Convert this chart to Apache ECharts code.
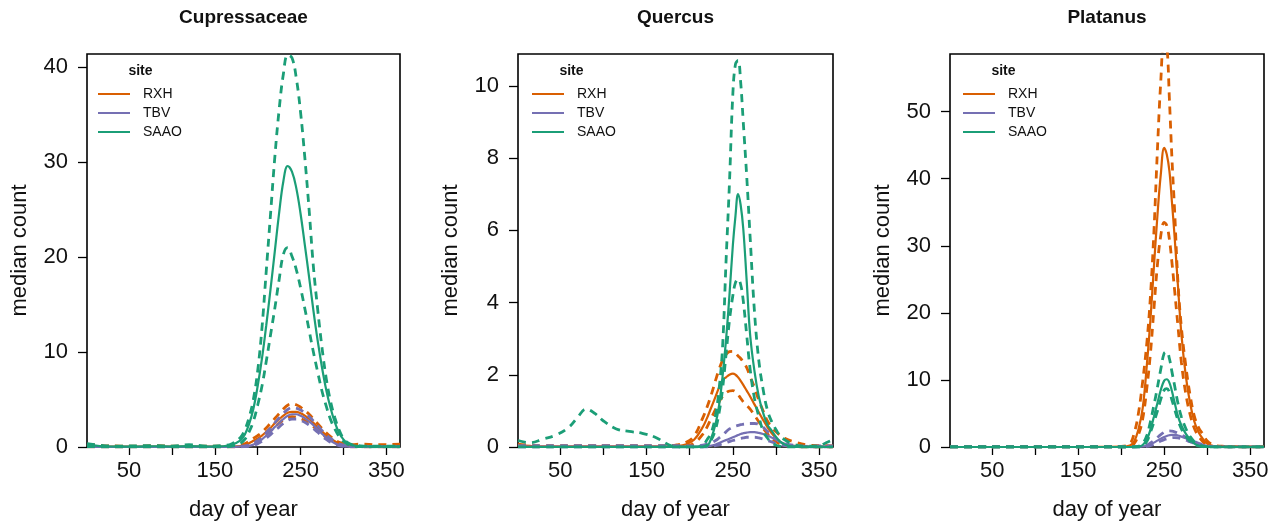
<!DOCTYPE html>
<html>
<head>
<meta charset="utf-8">
<script src="https://cdn.jsdelivr.net/npm/echarts@6/dist/echarts.min.js"></script>
<style>
html,body{margin:0;padding:0;background:#fff;}
#chart{width:1282px;height:526px;}
</style>
</head>
<body>
<div id="chart"></div>
<script>
// ---------- labels / ticks ----------
const panelTitles = ['Cupressaceae', 'Quercus', 'Platanus'];
const sites = ['RXH', 'TBV', 'SAAO'];
const siteColors = ['#d95f02', '#7570b3', '#1b9e77'];
const xTickValues = [50, 100, 150, 200, 250, 300, 350];
const xTickLabels = [50, 150, 250, 350];
const yTicksCup = [0, 10, 20, 30, 40];
const yTicksQue = [0, 2, 4, 6, 8, 10];
const yTicksPla = [0, 10, 20, 30, 40, 50];
const yMaxes = [41.4, 10.88, 58.6];
const xMin = 1, xMax = 366;

// ---------- Cupressaceae ----------
const CUP_DAYS = [1,20,40,60,80,100,120,140,160,170,180,185,190,195,200,205,210,215,220,225,230,235,240,245,250,255,260,265,270,275,280,285,290,295,300,305,310,320,340,366];
const CUP_RXH_MED = [0.1,0.05,0.05,0.05,0.05,0.05,0.05,0.05,0.05,0.05, 0.1,0.2,0.4,0.65,0.9,1.2,1.6,2.0,2.5,2.9, 3.3,3.6,3.7,3.7,3.55,3.3,2.95,2.55,2.1,1.65, 1.25,0.9,0.6,0.35,0.2,0.1,0.05,0.05,0.05,0.05];
const CUP_RXH_HI  = [0.3,0.15,0.1,0.1,0.15,0.1,0.1,0.1,0.1,0.1, 0.2,0.35,0.6,0.9,1.2,1.55,2.0,2.5,3.0,3.5, 4.0,4.4,4.55,4.45,4.2,3.85,3.45,2.95,2.45,1.95, 1.5,1.1,0.75,0.5,0.35,0.25,0.25,0.3,0.25,0.3];
const CUP_RXH_LO  = [0.02,0.02,0.02,0.02,0.02,0.02,0.02,0.02,0.02,0.02, 0.05,0.1,0.25,0.45,0.7,1.0,1.35,1.7,2.1,2.5, 2.85,3.1,3.2,3.15,3.0,2.8,2.5,2.15,1.75,1.35, 1.0,0.7,0.45,0.25,0.12,0.05,0.02,0.02,0.02,0.02];
const CUP_TBV_MED = [0.02,0.02,0.02,0.02,0.02,0.02,0.02,0.02,0.02,0.02, 0.05,0.08,0.12,0.25,0.5,0.8,1.2,1.6,2.1,2.5, 2.95,3.3,3.45,3.45,3.3,3.05,2.7,2.3,1.85,1.4, 1.0,0.65,0.4,0.2,0.1,0.05,0.02,0.02,0.02,0.02];
const CUP_TBV_HI  = [0.05,0.05,0.05,0.05,0.05,0.05,0.05,0.05,0.05,0.05, 0.08,0.12,0.2,0.4,0.7,1.05,1.5,2.0,2.55,3.05, 3.55,3.95,4.15,4.1,3.9,3.6,3.2,2.75,2.25,1.75, 1.3,0.9,0.6,0.35,0.2,0.1,0.05,0.05,0.05,0.05];
const CUP_TBV_LO  = [0.01,0.01,0.01,0.01,0.01,0.01,0.01,0.01,0.01,0.01, 0.02,0.04,0.07,0.15,0.35,0.6,0.95,1.3,1.75,2.1, 2.5,2.8,2.95,2.95,2.8,2.6,2.3,1.95,1.55,1.15, 0.8,0.5,0.3,0.15,0.07,0.03,0.01,0.01,0.01,0.01];
const CUP_SAAO_MED = [0.25,0.08,0.05,0.05,0.08,0.05,0.1,0.05,0.08,0.25, 0.7,1.3,2.4,4.0,6.4,9.3,12.8,16.6,20.6,24.6, 28.0,29.6,29.0,27.3,24.6,21.3,17.9,14.4,11.2,8.4, 6.0,4.1,2.6,1.5,0.8,0.4,0.2,0.08,0.05,0.05];
const CUP_SAAO_HI  = [0.35,0.15,0.1,0.12,0.15,0.1,0.25,0.1,0.15,0.35, 1.0,1.8,3.1,5.0,8.0,12.5,18.5,24.5,30.5,35.5, 39.3,41.3,41.0,38.9,35.3,30.5,25.0,19.0,14.5,10.5, 7.2,4.8,3.1,1.8,0.9,0.45,0.25,0.12,0.08,0.1];
const CUP_SAAO_LO  = [0.05,0.02,0.02,0.02,0.02,0.02,0.02,0.02,0.02,0.1, 0.4,0.8,1.6,2.7,4.4,6.4,9.0,11.8,14.6,17.6, 20.3,21.0,20.1,18.7,16.8,14.6,12.3,10.0,7.9,5.9, 4.3,2.9,1.9,1.1,0.6,0.3,0.1,0.03,0.02,0.02];

// ---------- Quercus ----------
const QUE_DAYS = [1,15,30,45,60,70,80,90,100,115,130,145,160,175,185,195,205,215,220,225,230,234,238,242,246,250,253,256,259,262,266,270,275,280,285,290,295,300,305,310,320,335,350,358,366];
const QUE_RXH_MED = [0.05,0.03,0.02,0.02,0.02,0.02,0.02,0.02,0.02,0.02, 0.02,0.02,0.02,0.02,0.03,0.07,0.2,0.55,0.8,1.1, 1.4,1.65,1.85,1.93,2.0,2.03,2.0,1.93,1.83,1.72, 1.56,1.4,1.18,0.96,0.75,0.55,0.38,0.24,0.14,0.08, 0.03,0.01,0.01,0.01,0.01];
const QUE_RXH_HI  = [0.08,0.05,0.04,0.04,0.04,0.04,0.04,0.04,0.04,0.04, 0.04,0.04,0.04,0.04,0.06,0.12,0.3,0.8,1.1,1.45, 1.85,2.15,2.4,2.56,2.64,2.65,2.6,2.52,2.45,2.35, 2.2,1.95,1.65,1.3,1.0,0.72,0.55,0.42,0.32,0.24, 0.15,0.06,0.04,0.04,0.03];
const QUE_RXH_LO  = [0.01,0.01,0.01,0.01,0.01,0.01,0.01,0.01,0.01,0.01, 0.01,0.01,0.01,0.01,0.01,0.03,0.1,0.35,0.55,0.8, 1.05,1.25,1.4,1.5,1.55,1.56,1.53,1.45,1.35,1.25, 1.15,1.05,0.88,0.7,0.52,0.37,0.24,0.14,0.08,0.04, 0.01,0,0,0,0];
const QUE_TBV_MED = [0.01,0.01,0.01,0.01,0.01,0.01,0.01,0.01,0.01,0.01, 0.01,0.01,0.01,0.01,0.01,0.01,0.01,0.01,0.02,0.04, 0.07,0.11,0.15,0.19,0.23,0.27,0.3,0.33,0.36,0.38, 0.4,0.41,0.41,0.39,0.36,0.32,0.26,0.2,0.14,0.09, 0.03,0.01,0.01,0.01,0.01];
const QUE_TBV_HI  = [0.04,0.04,0.04,0.04,0.04,0.04,0.04,0.04,0.04,0.04, 0.04,0.04,0.04,0.04,0.04,0.03,0.03,0.05,0.08,0.12, 0.18,0.25,0.33,0.42,0.5,0.55,0.58,0.6,0.62,0.63, 0.64,0.65,0.65,0.63,0.55,0.43,0.32,0.23,0.15,0.1, 0.05,0.02,0.03,0.03,0.03];
const QUE_TBV_LO  = [0,0,0,0,0,0,0,0,0,0, 0,0,0,0,0,0,0,0,0,0.02, 0.04,0.06,0.09,0.12,0.15,0.18,0.2,0.22,0.24,0.25, 0.27,0.27,0.27,0.25,0.22,0.18,0.14,0.1,0.07,0.04, 0.02,0,0,0,0];
const QUE_SAAO_MED = [0,0,0,0,0,0,0,0,0,0, 0,0,0,0,0,0,0,0,0.02,0.25, 0.65,1.15,1.95,2.95,4.2,5.6,6.4,7.0,6.7,6.05, 4.6,3.1,2.1,1.4,0.95,0.62,0.45,0.28,0.14,0.07, 0.01,0,0,0,0];
const QUE_SAAO_HI  = [0.18,0.12,0.22,0.33,0.55,0.82,1.05,0.93,0.72,0.5, 0.43,0.38,0.27,0.07,0,0,0,0.05,0.2,0.4, 0.9,1.6,2.75,5.1,7.3,9.8,10.6,10.7,10.1,9.0, 7.5,5.8,3.75,2.4,1.6,1.02,0.7,0.48,0.3,0.2, 0.08,0.02,0.03,0.12,0.2];
const QUE_SAAO_LO  = [0,0,0,0,0,0,0,0,0,0, 0,0,0,0,0,0,0,0,0.05,0.2, 0.5,0.95,1.6,2.55,3.5,4.2,4.55,4.65,4.5,4.05, 3.1,2.15,1.35,0.85,0.45,0.25,0.12,0.05,0.02,0, 0,0,0,0,0];

// ---------- Platanus ----------
const PLA_DAYS = [1,20,40,60,80,100,120,140,160,180,200,210,215,220,225,230,234,238,242,246,250,253,256,259,262,266,270,275,280,285,290,295,300,305,310,320,335,350,366];
const PLA_RXH_MED = [0,0,0,0,0,0,0,0,0,0.02, 0.05,0.2,0.8,2.6,5.8, 12.5,19.0,26.8,34.3,40.6, 44.6,43.6,41.2,36.5,31.5, 24.0,16.8,10.7,6.6,3.8, 2.2,1.2,0.5,0.2,0.08, 0.03,0.02,0.02,0.02];
const PLA_RXH_HI  = [0.05,0.05,0.05,0.05,0.05,0.05,0.05,0.05,0.05,0.08, 0.1,0.5,2.0,5.0,9.8, 15.8,22.5,32.0,44.0,54.5, 61.0,60.0,52.0,43.0,35.5, 24.5,17.8,12.2,7.8,4.6, 2.9,1.9,0.9,0.45,0.2, 0.1,0.05,0.03,0.05];
const PLA_RXH_LO  = [0,0,0,0,0,0,0,0,0,0, 0.02,0.1,0.5,1.8,4.2, 9.0,14.0,20.5,27.0,31.5, 33.5,33.0,31.0,27.5,23.5, 18.0,12.6,8.0,4.9,2.8, 1.6,0.8,0.35,0.15,0.05, 0.02,0,0,0];
const PLA_TBV_MED = [0,0,0,0,0,0,0,0,0,0, 0,0,0,0.02,0.08, 0.2,0.4,0.65,0.95,1.25, 1.5,1.65,1.75,1.8,1.8, 1.72,1.55,1.3,0.98,0.7, 0.45,0.27,0.15,0.08,0.04, 0.01,0,0,0];
const PLA_TBV_HI  = [0.03,0.03,0.03,0.03,0.03,0.03,0.03,0.03,0.03,0.03, 0.03,0.03,0.03,0.05,0.12, 0.3,0.6,0.95,1.4,1.85, 2.2,2.35,2.4,2.35,2.25, 2.05,1.8,1.5,1.15,0.82, 0.55,0.35,0.2,0.1,0.05, 0.03,0.03,0.03,0.03];
const PLA_TBV_LO  = [0,0,0,0,0,0,0,0,0,0, 0,0,0,0,0.02, 0.08,0.2,0.4,0.62,0.88, 1.1,1.24,1.33,1.38,1.4, 1.35,1.22,1.02,0.78,0.55, 0.35,0.2,0.1,0.05,0.02, 0,0,0,0];
const PLA_SAAO_MED = [0,0,0,0,0,0,0,0,0,0, 0,0,0,0.05,0.3, 1.2,2.6,4.5,6.5,8.5, 9.9,10.1,9.6,8.3,6.7, 4.6,3.2,2.0,1.15,0.5, 0.18,0.06,0.02,0,0, 0,0,0,0];
const PLA_SAAO_HI  = [0,0,0,0,0,0,0,0,0,0, 0,0,0,0.1,0.5, 1.8,3.8,6.2,8.8,11.6, 14.0,14.2,13.2,11.2,9.2, 6.5,4.5,2.8,1.6,0.8, 0.35,0.15,0.05,0,0, 0,0,0,0];
const PLA_SAAO_LO  = [0,0,0,0,0,0,0,0,0,0, 0,0,0,0,0.15, 0.9,2.2,3.7,5.3,7.1, 8.5,8.7,8.2,7.0,5.7, 4.0,2.7,1.6,0.85,0.4, 0.15,0.05,0,0,0, 0,0,0,0];

// ---------- assemble ----------
const panels = [
  {days: CUP_DAYS, yTicks: yTicksCup,
   med: [CUP_RXH_MED, CUP_TBV_MED, CUP_SAAO_MED],
   hi:  [CUP_RXH_HI,  CUP_TBV_HI,  CUP_SAAO_HI],
   lo:  [CUP_RXH_LO,  CUP_TBV_LO,  CUP_SAAO_LO]},
  {days: QUE_DAYS, yTicks: yTicksQue,
   med: [QUE_RXH_MED, QUE_TBV_MED, QUE_SAAO_MED],
   hi:  [QUE_RXH_HI,  QUE_TBV_HI,  QUE_SAAO_HI],
   lo:  [QUE_RXH_LO,  QUE_TBV_LO,  QUE_SAAO_LO]},
  {days: PLA_DAYS, yTicks: yTicksPla,
   med: [PLA_RXH_MED, PLA_TBV_MED, PLA_SAAO_MED],
   hi:  [PLA_RXH_HI,  PLA_TBV_HI,  PLA_SAAO_HI],
   lo:  [PLA_RXH_LO,  PLA_TBV_LO,  PLA_SAAO_LO]}
];

const FONT = 'Liberation Sans, Arial, Helvetica, sans-serif';
const gridBoxes = [
  {left: 87,  top: 54, width: 313, height: 394},
  {left: 518, top: 54, width: 315, height: 394},
  {left: 950, top: 54, width: 314, height: 394}
];
const legendLeftOffsets = [11, 14, 13];

function pts(days, vals) { return days.map((d, i) => [d, vals[i]]); }

const grids = [], xAxes = [], yAxes = [], series = [], legends = [], graphics = [];

panels.forEach((p, i) => {
  const g = gridBoxes[i];
  grids.push({left: g.left, top: g.top, width: g.width, height: g.height,
    show: true, borderColor: '#000', borderWidth: 1.6, backgroundColor: 'transparent', containLabel: false});
  xAxes.push({
    type: 'value', gridIndex: i, min: xMin, max: xMax,
    axisLine: {show: false}, splitLine: {show: false},
    axisTick: {show: true, length: 8, lineStyle: {color: '#000', width: 1.3}, customValues: xTickValues},
    axisLabel: {customValues: xTickLabels, fontSize: 22, color: '#111', margin: 13, fontFamily: FONT},
    name: 'day of year', nameLocation: 'middle', nameGap: 52,
    nameTextStyle: {fontSize: 22, color: '#111', fontFamily: FONT}
  });
  yAxes.push({
    type: 'value', gridIndex: i, min: 0, max: yMaxes[i],
    axisLine: {show: false}, splitLine: {show: false},
    axisTick: {show: true, length: 9, lineStyle: {color: '#000', width: 1.3}, customValues: p.yTicks},
    axisLabel: {customValues: p.yTicks, fontSize: 22, color: '#111', margin: 19, fontFamily: FONT},
    name: 'median count', nameLocation: 'middle', nameGap: 56,
    nameTextStyle: {fontSize: 22, color: '#111', fontFamily: FONT}
  });
  sites.forEach((s, k) => {
    const base = {type: 'line', xAxisIndex: i, yAxisIndex: i, showSymbol: false, symbol: 'none',
      smooth: 0.4, silent: true, animation: false, z: 2 + k};
    series.push(Object.assign({}, base, {name: s + ' upper', data: pts(p.days, p.hi[k]),
      lineStyle: {color: siteColors[k], width: 2.8, type: [8, 6]}}));
    series.push(Object.assign({}, base, {name: s + ' lower', data: pts(p.days, p.lo[k]),
      lineStyle: {color: siteColors[k], width: 2.8, type: [8, 6]}}));
    series.push(Object.assign({}, base, {name: s, data: pts(p.days, p.med[k]),
      itemStyle: {color: siteColors[k]},
      lineStyle: {color: siteColors[k], width: 2.2, type: 'solid'}}));
  });
  legends.push({
    data: sites, orient: 'vertical', left: g.left + legendLeftOffsets[i], top: 86,
    icon: 'rect', itemWidth: 32, itemHeight: 2, itemGap: 3, padding: 0, selectedMode: false,
    textStyle: {fontSize: 14, color: '#111', lineHeight: 16, padding: [0, 0, 0, 8], fontFamily: FONT}
  });
  graphics.push({type: 'text', x: g.left + g.width / 2, y: 18,
    style: {text: panelTitles[i], font: 'bold 19px ' + FONT, fill: '#111', align: 'center', verticalAlign: 'middle'}});
  graphics.push({type: 'text', x: g.left + 53.5, y: 71,
    style: {text: 'site', font: 'bold 14px ' + FONT, fill: '#111', align: 'center', verticalAlign: 'middle'}});
});

const chart = echarts.init(document.getElementById('chart'), null, {renderer: 'canvas'});
chart.setOption({
  animation: false,
  backgroundColor: '#fff',
  grid: grids, xAxis: xAxes, yAxis: yAxes, series: series,
  legend: legends, graphic: graphics
});
</script>
</body>
</html>
